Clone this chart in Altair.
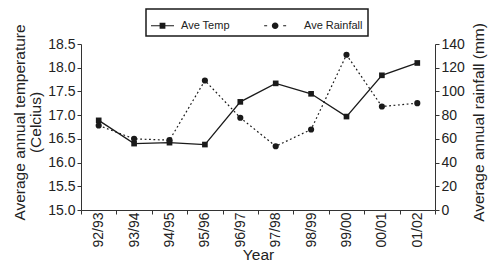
import altair as alt
import pandas as pd

years = ["92/93", "93/94", "94/95", "95/96", "96/97", "97/98", "98/99", "99/00", "00/01", "01/02"]
temp = [16.89, 16.40, 16.42, 16.38, 17.28, 17.67, 17.45, 16.97, 17.84, 18.10]
rain = [71.3, 60.0, 58.9, 109.2, 77.8, 53.8, 67.9, 130.9, 87.3, 90.1]
series = ["Ave Temp", "Ave Rainfall"]
temp_ticks = [15.0, 15.5, 16.0, 16.5, 17.0, 17.5, 18.0, 18.5]
rain_ticks = [0, 20, 40, 60, 80, 100, 120, 140]

df = pd.DataFrame({"year": years, "temp": temp, "rain": rain})
legend_df = pd.DataFrame({"series": series})

INK = "#1a1a1a"
AX = "#333333"
FONT = "Liberation Sans"


def rect(x1, x2, h):
    return f"M{x1:.3f},{-h:.3f} H{x2:.3f} V{h:.3f} H{x1:.3f} Z "


def circ(cx, r):
    return (f"M{cx - r:.3f},0 A{r:.3f},{r:.3f} 0 1,1 {cx + r:.3f},0 "
            f"A{r:.3f},{r:.3f} 0 1,1 {cx - r:.3f},0 Z ")


# legend glyphs (unit box, scaled by sqrt(size)/2)
u = 11.5
lw = 0.6 / u
sq = 2.9 / u
temp_path = rect(-1, 1, lw) + rect(-sq, sq, sq)
s = -0.9
rain_path = (rect(-0.957 + s, -0.696 + s, lw) + circ(s, 0.29)
             + rect(0.696 + s, 0.957 + s, lw))

x = alt.X(
    "year:N", sort=years, title="Year",
    scale=alt.Scale(type="band", paddingInner=0, paddingOuter=0),
    axis=alt.Axis(labelAngle=270, tickBand="extent", tickSize=4,
                  labelPadding=-2, titlePadding=0),
)

base = alt.Chart(df)

temp_y = alt.Y(
    "temp:Q",
    scale=alt.Scale(domain=[15, 18.5], nice=False, zero=False),
    axis=alt.Axis(values=temp_ticks, format=".1f", orient="left",
                  title=["Average annual temperature",
                         "\u00a0" * 19 + "(Celcius)"],
                  tickSize=4, labelPadding=2, titlePadding=4,
                  titleLineHeight=16, titleY=78),
)
rain_y = alt.Y(
    "rain:Q",
    scale=alt.Scale(domain=[0, 140], nice=False),
    axis=alt.Axis(values=rain_ticks, format="d", orient="right",
                  title="Average annual rainfall (mm)", titleAngle=270,
                  titleBaseline="top", tickSize=4, labelPadding=2,
                  titlePadding=7, titleY=78),
)

temp_layer = alt.layer(
    base.mark_line(color=INK, strokeWidth=1.3).encode(x=x, y=temp_y),
    base.mark_point(shape="square", filled=True, color=INK, size=32,
                    opacity=1).encode(x=x, y=temp_y),
)
rain_layer = alt.layer(
    base.mark_line(color=INK, strokeWidth=1.2, strokeDash=[1.8, 2.6]).encode(x=x, y=rain_y),
    base.mark_point(shape="circle", filled=True, color=INK, size=38,
                    opacity=1).encode(x=x, y=rain_y),
)

legend_layer = alt.Chart(legend_df).transform_filter("false").mark_point(
    filled=True, color=INK, opacity=1, size=529
).encode(
    shape=alt.Shape(
        "series:N",
        scale=alt.Scale(domain=series, range=[temp_path, rain_path]),
        legend=alt.Legend(
            title=None, orient="none", legendX=65, legendY=-35,
            direction="horizontal", columns=2, symbolSize=529,
            symbolFillColor=INK, symbolStrokeWidth=0, symbolOpacity=1,
            labelFontSize=11, labelColor="#222222", labelFont=FONT,
            labelOffset=7, columnPadding=34, padding=5,
            strokeColor=INK,
        ),
    )
)

chart = alt.layer(temp_layer, rain_layer, legend_layer).resolve_scale(
    y="independent"
).properties(
    width=354, height=166,
    autosize=alt.AutoSizeParams(type="none"),
    padding={"left": 73, "top": 36, "right": 53, "bottom": 52},
).configure_view(stroke=None).configure_axis(
    grid=False, domainColor=AX, tickColor=AX, labelColor="#222222",
    titleColor="#222222", labelFont=FONT, titleFont=FONT, labelFontSize=14,
    titleFontSize=15.5, titleFontWeight="normal", domainWidth=1, tickWidth=1,
).configure_legend(strokeWidth=1.5)

chart.save("out.html", embed_options={"renderer": "svg", "actions": False})
